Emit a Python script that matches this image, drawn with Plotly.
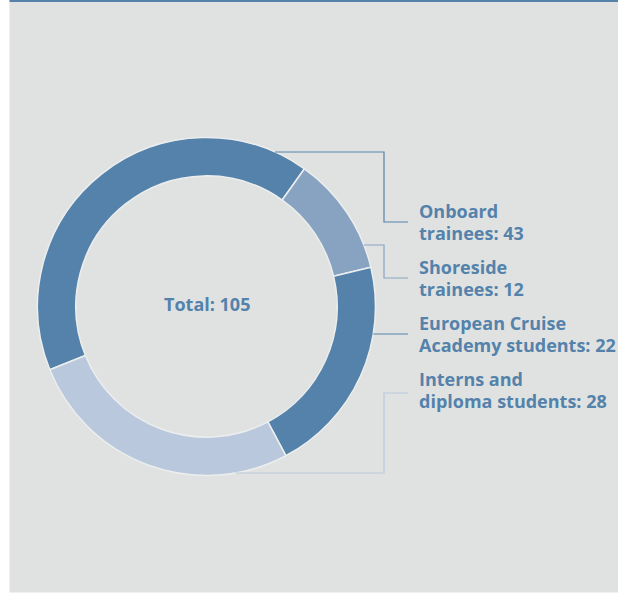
import math
import plotly.graph_objects as go

# ---- data ----
categories = ["Onboard trainees", "Shoreside trainees", "European Cruise Academy students", "Interns and diploma students"]
values = [43, 12, 22, 28]
label_lines = [["Onboard", "trainees: 43"], ["Shoreside", "trainees: 12"],
               ["European Cruise", "Academy students: 22"], ["Interns and", "diploma students: 28"]]
total_text = "Total: 105"

# ---- style ----
W, H = 618, 593
DARK = "#5482ab"
MID = "#88a3c2"
LIGHT = "#b9c8dc"
PANEL = "#e0e2e1"
slice_colors = [DARK, MID, DARK, LIGHT]
line_colors = [DARK, MID, DARK, LIGHT]
FONT = dict(family="Open Sans", size=18, color=DARK, weight="bold")

CX, CY, R = 206.5, 306.5, 169   # donut centre / radius in pixels
HOLE = 0.773

def px(x):
    return x / W

def py(y):
    return 1 - y / H

fig = go.Figure(go.Pie(
    labels=categories,
    values=values,
    sort=False,
    direction="clockwise",
    rotation=248,
    hole=HOLE,
    textinfo="none",
    hoverinfo="label+value",
    marker=dict(colors=slice_colors, line=dict(color="#eceeee", width=1.5)),
    showlegend=False,
    domain=dict(x=[px(CX - R), px(CX + R)], y=[py(CY + R), py(CY - R)]),
))

shapes = [
    dict(type="rect", xref="paper", yref="paper", x0=px(9.5), x1=1, y0=py(592.5), y1=1,
         fillcolor=PANEL, line=dict(width=0), layer="below"),
    dict(type="rect", xref="paper", yref="paper", x0=px(9.5), x1=1, y0=py(2), y1=1,
         fillcolor=DARK, line=dict(width=0), layer="below"),
]

leader_start_y = [152, 245, 334, 473]
leader_end_y = [222, 278, 334, 393]
label_center_y = [222, 278, 334, 390]
ELBOW_X = 384
END_X = 408
LABEL_X = 417
LINE_GAP = 22

def ring_x(y):
    dy = y - CY
    return CX + math.sqrt(max(R * R - dy * dy, 0))

for i in range(len(values)):
    sy = leader_start_y[i]
    sx = ring_x(sy)
    ly = leader_end_y[i]
    if abs(sy - ly) < 1:
        path = f"M {px(sx)} {py(sy)} L {px(END_X)} {py(ly)}"
    else:
        path = (f"M {px(sx)} {py(sy)} L {px(ELBOW_X)} {py(sy)} "
                f"L {px(ELBOW_X)} {py(ly)} L {px(END_X)} {py(ly)}")
    shapes.append(dict(type="path", xref="paper", yref="paper", path=path,
                       line=dict(color=line_colors[i], width=1.2)))

annotations = []
for i, lines in enumerate(label_lines):
    n = len(lines)
    for j, t in enumerate(lines):
        yc = label_center_y[i] + (j - (n - 1) / 2) * LINE_GAP
        annotations.append(dict(
            x=px(LABEL_X), y=py(yc), xref="paper", yref="paper",
            text=t, showarrow=False, xanchor="left", yanchor="middle", align="left",
            font=FONT,
        ))
annotations.append(dict(
    x=px(207), y=py(304), xref="paper", yref="paper", text=total_text,
    showarrow=False, xanchor="center", yanchor="middle", font=FONT,
))

fig.update_layout(
    width=W, height=H,
    margin=dict(l=0, r=0, t=0, b=0),
    paper_bgcolor="white",
    plot_bgcolor="white",
    shapes=shapes,
    annotations=annotations,
)

fig.write_html("out.html")
